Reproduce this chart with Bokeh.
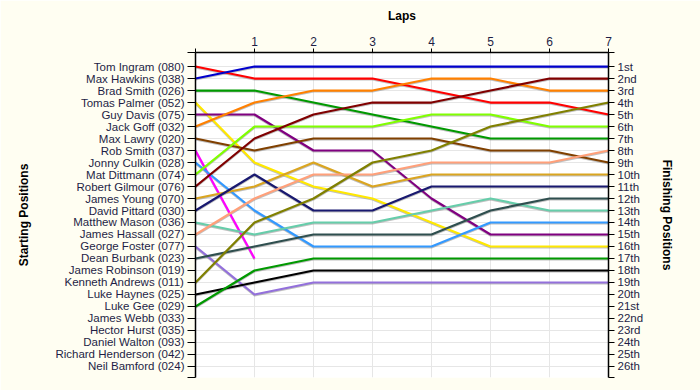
from bokeh.plotting import figure
from bokeh.models import FixedTicker, LinearAxis, Range1d, ColumnDataSource
from bokeh.embed import file_html
from bokeh.resources import INLINE
import math

# ---------------- data ----------------
laps = [0, 1, 2, 3, 4, 5, 6, 7]

starting_labels = [
    "Tom Ingram (080)", "Max Hawkins (038)", "Brad Smith (026)", "Tomas Palmer (052)",
    "Guy Davis (075)", "Jack Goff (032)", "Max Lawry (020)", "Rob Smith (037)",
    "Jonny Culkin (028)", "Mat Dittmann (074)", "Robert Gilmour (076)", "James Young (070)",
    "David Pittard (030)", "Matthew Mason (036)", "James Hassall (027)", "George Foster (077)",
    "Dean Burbank (023)", "James Robinson (019)", "Kenneth Andrews (011)", "Luke Haynes (025)",
    "Luke Gee (029)", "James Webb (033)", "Hector Hurst (035)", "Daniel Walton (093)",
    "Richard Henderson (042)", "Neil Bamford (024)",
]

finishing_labels = [
    "1st", "2nd", "3rd", "4th", "5th", "6th", "7th", "8th", "9th", "10th",
    "11th", "12th", "13th", "14th", "15th", "16th", "17th", "18th", "19th", "20th",
    "21st", "22nd", "23rd", "24th", "25th", "26th",
]

racers = [
    "Tom Ingram", "Max Hawkins", "Brad Smith", "Tomas Palmer", "Guy Davis",
    "Jack Goff", "Max Lawry", "Rob Smith", "Jonny Culkin", "Mat Dittmann",
    "Robert Gilmour", "James Young", "David Pittard", "Matthew Mason", "James Hassall",
    "George Foster", "Dean Burbank", "Kenneth Andrews", "Luke Haynes", "Luke Gee",
]

racer_colors = [
    "#FF0000", "#0000CC", "#009900", "#FFE800", "#800080",
    "#FF8000", "#804000", "#FF00FF", "#3399FF", "#80FF00",
    "#800000", "#DAA520", "#191970", "#66CDAA", "#FFA07A",
    "#9370DB", "#2F4F4F", "#808000", "#000000", "#009900",
]

NA = float("nan")
lap_0 = [1, 2, 3, 4, 5, 6, 7, 8, 9, 10, 11, 12, 13, 14, 15, 16, 17, 19, 20, 21]
lap_1 = [2, 1, 3, 9, 5, 4, 8, 17, 13, 6, 7, 11, 10, 15, 12, 20, 16, 14, 19, 18]
lap_2 = [2, 1, 4, 11, 8, 3, 7, NA, 16, 6, 5, 9, 13, 14, 10, 19, 15, 12, 18, 17]
lap_3 = [2, 1, 5, 12, 8, 3, 7, NA, 16, 6, 4, 11, 13, 14, 10, 19, 15, 9, 18, 17]
lap_4 = [3, 1, 6, 14, 12, 2, 7, NA, 16, 5, 4, 10, 11, 13, 9, 19, 15, 8, 18, 17]
lap_5 = [4, 1, 7, 16, 15, 2, 8, NA, 14, 5, 3, 10, 11, 12, 9, 19, 13, 6, 18, 17]
lap_6 = [4, 1, 7, 16, 15, 3, 8, NA, 14, 6, 2, 10, 11, 13, 9, 19, 12, 5, 18, 17]
lap_7 = [5, 1, 7, 16, 15, 3, 9, NA, 14, 6, 2, 10, 11, 13, 8, 19, 12, 4, 18, 17]

# ---------------- style ----------------
BG = "#FFFEF2"
LABEL_COLOR = "#1E1E46"
FONT = "Liberation Sans"
Y_TOP = -0.17
Y_BOTTOM = 26.92
SHADOW = 0.09

all_laps = [lap_0, lap_1, lap_2, lap_3, lap_4, lap_5, lap_6, lap_7]
xs, ys, ys_shadow = [], [], []
for i in range(len(racers)):
    lx, ly = [], []
    for lap, col in zip(laps, all_laps):
        v = col[i]
        if not math.isnan(v):
            lx.append(lap)
            ly.append(v)
    xs.append(lx)
    ys.append(ly)
    ys_shadow.append([v + SHADOW for v in ly])

src = ColumnDataSource(dict(xs=xs, ys=ys, ys_shadow=ys_shadow, color=racer_colors, name=racers))

p = figure(
    width=700, height=390,
    x_range=Range1d(laps[0], laps[-1]),
    y_range=Range1d(Y_BOTTOM, Y_TOP),
    x_axis_location="above",
    toolbar_location=None, output_backend="svg",
    min_border_left=195, min_border_right=92, min_border_top=52, min_border_bottom=13,
)
p.border_fill_color = BG
p.background_fill_color = "white"
p.outline_line_color = None

# grids
pos_ticks = [Y_TOP] + list(range(1, len(starting_labels) + 1)) + [Y_BOTTOM]
p.ygrid.ticker = FixedTicker(ticks=pos_ticks)
p.xgrid.ticker = FixedTicker(ticks=laps)
for g in (p.xgrid[0], p.ygrid[0]):
    g.grid_line_color = "#E6E6E6"
    g.grid_line_width = 1

# lines
p.multi_line(xs="xs", ys="ys_shadow", source=src, line_color="#8C8C8C", line_alpha=0.55, line_width=2)
p.multi_line(xs="xs", ys="ys", source=src, line_color="color", line_width=2.2)

# top axis (laps)
xa = p.xaxis[0]
xa.ticker = FixedTicker(ticks=laps)
xa.major_label_overrides = {0: ""}
xa.axis_label = "Laps"
xa.axis_label_text_font = FONT
xa.axis_label_text_font_style = "bold"
xa.axis_label_text_font_size = "12px"
xa.axis_label_text_color = "black"
xa.axis_label_standoff = 11
xa.major_label_text_font = FONT
xa.major_label_text_font_size = "12px"
xa.major_label_text_color = LABEL_COLOR
xa.major_label_standoff = 3
xa.major_tick_out = 4
xa.major_tick_in = 0
xa.minor_tick_line_color = None
xa.axis_line_color = "black"
xa.axis_line_width = 1.5
xa.major_tick_line_color = "black"

left_overrides = {Y_TOP: "", Y_BOTTOM: ""}
for i, lab in enumerate(starting_labels):
    left_overrides[i + 1] = lab
right_overrides = {Y_TOP: "", Y_BOTTOM: ""}
for i, lab in enumerate(finishing_labels):
    right_overrides[i + 1] = lab


def style_y(ax, title, overrides, standoff):
    ax.ticker = FixedTicker(ticks=pos_ticks)
    ax.major_label_overrides = overrides
    ax.axis_label = title
    ax.axis_label_text_font = FONT
    ax.axis_label_text_font_style = "bold"
    ax.axis_label_text_font_size = "12px"
    ax.axis_label_text_color = "black"
    ax.axis_label_standoff = standoff
    ax.major_label_text_font = FONT
    ax.major_label_text_font_size = "11.5px"
    ax.major_label_text_color = LABEL_COLOR
    ax.major_label_standoff = 3
    ax.major_tick_in = 0
    ax.minor_tick_line_color = None
    ax.axis_line_color = "black"
    ax.axis_line_width = 1.5
    ax.major_tick_line_color = "black"


ya = p.yaxis[0]
style_y(ya, "Starting Positions", left_overrides, 21)
ya.major_tick_out = 8

ra = LinearAxis()
style_y(ra, "Finishing Positions", right_overrides, 14)
ra.major_tick_out = 6
p.add_layout(ra, "right")

open("out.html", "w").write(file_html(p, INLINE))
